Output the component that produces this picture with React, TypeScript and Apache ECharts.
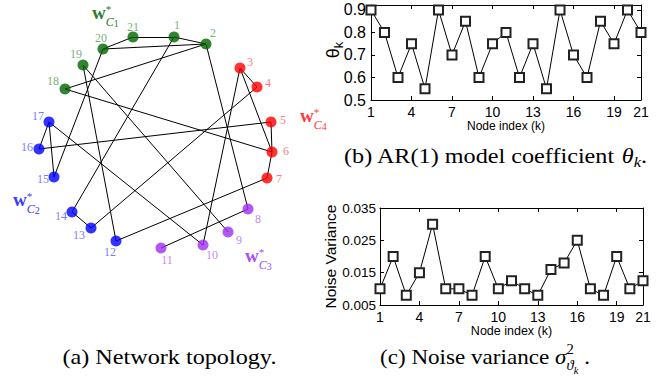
import React, { useEffect, useRef } from "react";
import * as echarts from "echarts";

// ---------------- data ----------------
const nodeIndex = [1, 2, 3, 4, 5, 6, 7, 8, 9, 10, 11, 12, 13, 14, 15, 16, 17, 18, 19, 20, 21];
const theta = [0.9, 0.8, 0.6, 0.75, 0.55, 0.9, 0.7, 0.85, 0.6, 0.75, 0.8, 0.6, 0.75, 0.55, 0.9, 0.7, 0.6, 0.85, 0.75, 0.9, 0.8];
const noiseVariance = [0.01, 0.02, 0.008, 0.015, 0.03, 0.01, 0.01, 0.008, 0.02, 0.01, 0.0125, 0.01, 0.008, 0.016, 0.018, 0.025, 0.01, 0.008, 0.02, 0.01, 0.0125];
const xTickValues = [1, 4, 7, 10, 13, 16, 19, 21];
const thetaTickValues = [0.5, 0.6, 0.7, 0.8, 0.9];
const noiseTickValues = [0.005, 0.015, 0.025, 0.035];

// network: cluster of each node and its edges
const nodeCluster = ["C1", "C1", "C4", "C4", "C4", "C4", "C4", "C3", "C3", "C3", "C3", "C2", "C2", "C2", "C2", "C2", "C2", "C1", "C1", "C1", "C1"];
const edges = [
  [1, 2], [1, 21], [1, 14], [2, 20], [2, 18], [2, 8], [3, 4], [3, 10], [3, 6], [4, 13],
  [5, 6], [5, 16], [6, 7], [6, 18], [7, 12], [8, 11], [9, 19], [10, 17], [12, 19], [13, 14],
  [15, 17], [15, 20], [16, 17], [20, 21],
];
const clusterNames = ["C1", "C2", "C3", "C4"];

// network layout (pixel positions of nodes in the drawing)
const nodeX = [174, 206, 240, 257, 271, 272, 267, 248, 228, 203, 161, 116, 91, 72, 54, 39, 49, 65, 83, 103, 133];
const nodeY = [37, 44, 68, 87, 122, 152, 178, 209, 232, 245, 248, 241, 228, 212, 177, 149, 122, 89, 65, 49, 37];
const labelDX = [3, 7, 10, 11, 12, 14, 12, 10, 11, 9, 6, -6, -12, -11, -11, -12, -11, -12, -7, -2, 0];
const labelDY = [-12, -11, -6, -4, -2, -1, 1, 10, 8, 10, 12, 11, 7, 4, 2, -2, -6, -8, -11, -11, -10];

const clusterNodeColor: Record<string, string> = { C1: "#006400", C2: "#0000ff", C3: "#a030f0", C4: "#ff0000" };
const clusterLabelColor: Record<string, string> = { C1: "#4f9a4f", C2: "#5555ff", C3: "#b366ff", C4: "#ff5555" };
const clusterTitleColor: Record<string, string> = { C1: "#2a7d2a", C2: "#3a3aff", C3: "#a64dff", C4: "#ff3a3a" };
const clusterTitlePos: Record<string, [number, number]> = { C1: [92, 19], C4: [300, 122], C2: [13, 206], C3: [245, 262] };

const SERIF = '"Liberation Serif", "Times New Roman", serif';
const SANS = '"Liberation Sans", Arial, sans-serif';

// ---------------- text layout helper ----------------
type Piece = { t: string; size: number; italic?: boolean; bold?: boolean; shift?: number; stack?: boolean; family?: string };

let measureCtx: CanvasRenderingContext2D | null = null;
function textWidth(t: string, font: string) {
  if (!measureCtx) measureCtx = document.createElement("canvas").getContext("2d");
  if (!measureCtx) return t.length * 8;
  measureCtx.font = font;
  return measureCtx.measureText(t).width;
}

function run(pieces: Piece[], x0: number, baseline: number, align: "left" | "center", color: string, sx = 1) {
  let cursor = 0;
  let prevStart = 0;
  const placed = pieces.map((p) => {
    const fam = p.family || SERIF;
    const font = `${p.italic ? "italic " : ""}${p.bold ? "bold " : ""}${p.size}px ${fam}`;
    const w = textWidth(p.t, font) * sx;
    const start = p.stack ? prevStart : cursor;
    if (!p.stack) prevStart = start;
    cursor = p.stack ? Math.max(cursor, start + w) : start + w;
    return { p, start, fam };
  });
  const total = cursor;
  const off = align === "center" ? -total / 2 : 0;
  return placed.map(({ p, start, fam }) => ({
    type: "text",
    x: x0 + off + start,
    y: baseline + (p.shift || 0) - 0.34 * p.size,
    scaleX: sx,
    silent: true,
    style: {
      text: p.t,
      fontSize: p.size,
      fontFamily: fam,
      fontStyle: p.italic ? "italic" : "normal",
      fontWeight: p.bold ? "bold" : "normal",
      fill: color,
      align: "left",
      verticalAlign: "middle",
    },
  }));
}

function axisPair(gridIndex: number, kind: "x" | "y", min: number, max: number, ticks: number[], opts: any) {
  const common = {
    gridIndex,
    type: "value",
    min,
    max,
    splitLine: { show: false },
    axisLine: { show: true, onZero: false, lineStyle: { color: "#000", width: 1 } },
    axisTick: { show: true, inside: true, length: 4, customValues: ticks, lineStyle: { color: "#000" } },
  };
  const main = {
    ...common,
    position: kind === "x" ? "bottom" : "left",
    axisLabel: { show: true, customValues: ticks, color: "#000", fontFamily: SANS, ...opts.label },
    ...opts.extra,
  };
  const mirror = {
    ...common,
    position: kind === "x" ? "top" : "right",
    axisLabel: { show: false },
  };
  return [main, mirror];
}

export default function App() {
  const ref = useRef<HTMLDivElement>(null);

  useEffect(() => {
    if (!ref.current) return;
    const chart = echarts.init(ref.current, undefined, { renderer: "svg" });

    const nodes = nodeIndex.map((n, i) => ({
      name: String(n),
      value: [nodeX[i], nodeY[i]],
      itemStyle: { color: clusterNodeColor[nodeCluster[i]] },
      label: {
        show: true,
        position: "inside",
        offset: [labelDX[i], labelDY[i]],
        formatter: String(n),
        color: clusterLabelColor[nodeCluster[i]],
        fontFamily: SERIF,
        fontSize: 12,
      },
    }));
    const edgeData = edges.map(([a, b]) => ({
      coords: [
        [nodeX[a - 1], nodeY[a - 1]],
        [nodeX[b - 1], nodeY[b - 1]],
      ],
    }));

    const graphics: any[] = [];
    clusterNames.forEach((c) => {
      const [x, y] = clusterTitlePos[c];
      graphics.push(
        ...run(
          [
            { t: "w", size: 19, bold: true },
            { t: "*", size: 11, shift: -6.5 },
            { t: "C", size: 12, italic: true, shift: 7, stack: true },
            { t: c.slice(1), size: 10, shift: 8 },
          ],
          x,
          y,
          "left",
          clusterTitleColor[c]
        )
      );
    });
    // captions
    graphics.push(...run([{ t: "(a) Network topology.", size: 22 }], 169.5, 364, "center", "#000", 1.1));
    graphics.push(
      ...run(
        [
          { t: "(b) AR(1) model coefficient ", size: 22 },
          { t: "θ", size: 22, italic: true },
          { t: "k", size: 15, italic: true, shift: 4 },
          { t: ".", size: 22 },
        ],
        495.5,
        163,
        "center",
        "#000",
        1.1
      )
    );
    graphics.push(
      ...run(
        [
          { t: "(c) Noise variance ", size: 22 },
          { t: "σ", size: 22, italic: true },
          { t: "2", size: 14, shift: -10 },
          { t: "ϑ", size: 14, italic: true, shift: 6, stack: true },
          { t: "k", size: 10, italic: true, shift: 10 },
          { t: " .", size: 22 },
        ],
        485,
        364,
        "center",
        "#000",
        1.05
      )
    );
    // theta_k y-axis title (rotated)
    graphics.push({
      type: "group",
      x: 333,
      y: 50,
      rotation: Math.PI / 2,
      children: run(
        [
          { t: "θ", size: 18, family: SANS },
          { t: "k", size: 13, shift: 4, family: SANS },
        ],
        0,
        6,
        "center",
        "#000"
      ),
    });

    const [x1, x1m] = axisPair(1, "x", 1, 21, xTickValues, {
      label: { fontSize: 14, margin: 5, formatter: (v: number) => String(v) },
      extra: { name: "Node index (k)", nameLocation: "middle", nameGap: 17, nameTextStyle: { fontFamily: SANS, fontSize: 12, color: "#000" } },
    });
    const [y1, y1m] = axisPair(1, "y", 0.5, 0.922, thetaTickValues, {
      label: { fontSize: 16, margin: 5, formatter: (v: number) => v.toFixed(1) },
      extra: {},
    });
    const [x2, x2m] = axisPair(2, "x", 1, 21, xTickValues, {
      label: { fontSize: 14, margin: 5, formatter: (v: number) => String(v) },
      extra: { name: "Node index (k)", nameLocation: "middle", nameGap: 19, nameTextStyle: { fontFamily: SANS, fontSize: 12.5, color: "#000" } },
    });
    const [y2, y2m] = axisPair(2, "y", 0.005, 0.035, noiseTickValues, {
      label: { fontSize: 13.5, margin: 4, formatter: (v: number) => v.toFixed(3) },
      extra: { name: "Noise Variance", nameLocation: "middle", nameRotate: 90, nameGap: 42, nameTextStyle: { fontFamily: SANS, fontSize: 15.5, color: "#000" } },
    });

    const lineStyle = { color: "#000", width: 1 };
    const markerStyle = { color: "#222", borderColor: "#222", borderWidth: 1 };

    chart.setOption({
      animation: false,
      backgroundColor: "#fff",
      grid: [
        { left: 0, top: 0, width: 670, height: 388, show: false },
        { left: 371, top: 5, width: 270, height: 95, show: false },
        { left: 380, top: 208, width: 263, height: 97, show: false },
      ],
      xAxis: [{ gridIndex: 0, type: "value", min: 0, max: 670, show: false }, x1, x1m, x2, x2m],
      yAxis: [{ gridIndex: 0, type: "value", min: 0, max: 388, inverse: true, show: false }, y1, y1m, y2, y2m],
      series: [
        {
          type: "lines",
          coordinateSystem: "cartesian2d",
          xAxisIndex: 0,
          yAxisIndex: 0,
          data: edgeData,
          lineStyle: { color: "#000", width: 1, opacity: 1 },
          silent: true,
          z: 1,
        },
        {
          type: "scatter",
          xAxisIndex: 0,
          yAxisIndex: 0,
          symbolSize: 11,
          data: nodes,
          z: 2,
        },
        {
          type: "line",
          xAxisIndex: 1,
          yAxisIndex: 1,
          data: nodeIndex.map((k, i) => [k, theta[i]]),
          symbol: "emptyRect",
          symbolSize: 9,
          lineStyle,
          itemStyle: markerStyle,
          clip: false,
        },
        {
          type: "line",
          xAxisIndex: 3,
          yAxisIndex: 3,
          data: nodeIndex.map((k, i) => [k, noiseVariance[i]]),
          symbol: "emptyRect",
          symbolSize: 9,
          lineStyle,
          itemStyle: markerStyle,
          clip: false,
        },
      ],
      graphic: graphics,
    });

    return () => chart.dispose();
  }, []);

  return (
    <div
      ref={ref}
      style={{ position: "fixed", left: 0, top: 0, width: 670, height: 388, background: "#fff" }}
    />
  );
}
